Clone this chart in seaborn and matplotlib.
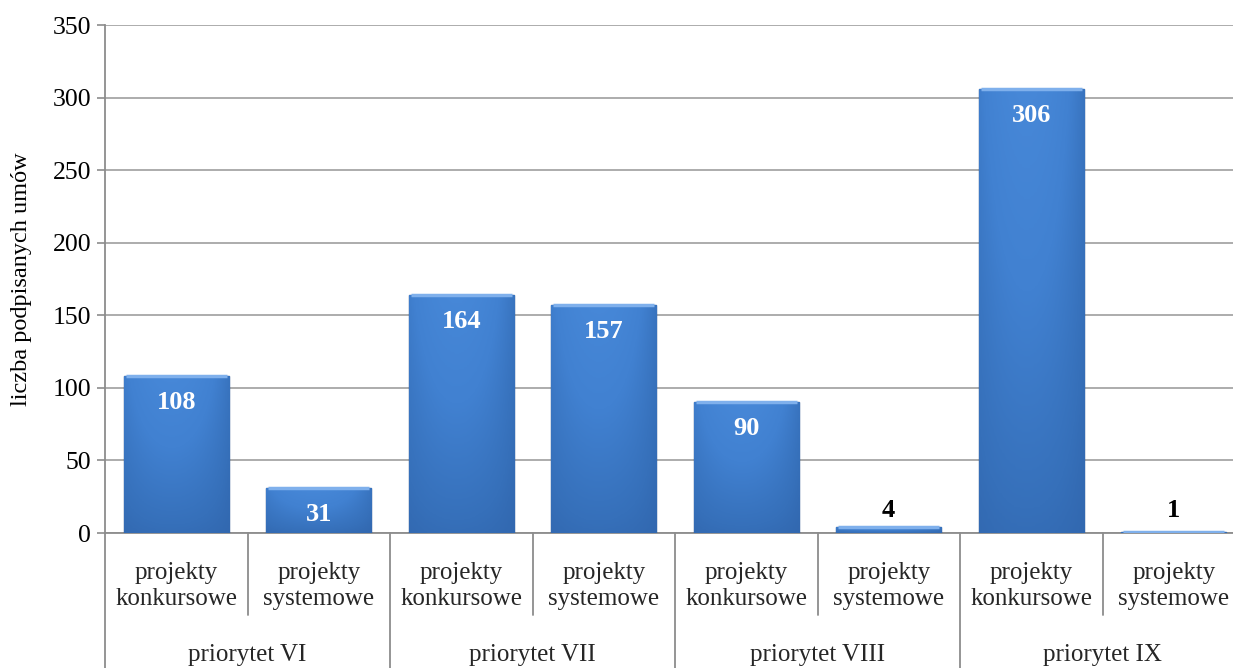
import numpy as np
import pandas as pd
import matplotlib
matplotlib.use("Agg")
import matplotlib.pyplot as plt
import seaborn as sns
from matplotlib.colors import LinearSegmentedColormap

# data
groups = ["priorytet VI", "priorytet VII", "priorytet VIII", "priorytet IX"]
subtypes = ["projekty\nkonkursowe", "projekty\nsystemowe"]
values = [108, 31, 164, 157, 90, 4, 306, 1]
y_ticks = [0, 50, 100, 150, 200, 250, 300, 350]
y_label = "liczba podpisanych umów"

df = pd.DataFrame({
    "grupa": np.repeat(groups, len(subtypes)),
    "typ": subtypes * len(groups),
    "umowy": values,
})
df["klucz"] = df["grupa"] + "|" + df["typ"]

sns.set_theme(style="white")
plt.rcParams["font.family"] = ["Liberation Serif", "DejaVu Serif"]

W, H = 1233, 668
fig = plt.figure(figsize=(W / 100, H / 100), dpi=100)
left, bottom, top = 105, 533, 25
ax = fig.add_axes([left / W, 1 - bottom / H, 1 - left / W, (bottom - top) / H])

sns.barplot(data=df, x="klucz", y="umowy", color="#3C78C8", width=0.74,
            edgecolor="#1F4C86", linewidth=1.0, ax=ax, zorder=3)

n = len(df)
slot_px = 142.5
xlim = (-0.5, -0.5 + (W - left) / slot_px)
ax.set_xlim(xlim)
ax.set_ylim(0, 350)

# gradient fill clipped to each bar
cmap = LinearSegmentedColormap.from_list("bar", ["#29579A", "#3670BA", "#4181D1", "#4788D8"])
xs = np.linspace(0, 1, 64)
ys = np.linspace(0, 1, 128)[:, None]
horiz = 1 - 0.6 * np.abs(xs - 0.45) ** 2 * 4
grad = np.clip(0.2 + 0.75 * ys * horiz[None, :] * 0.9 + 0.1 * horiz[None, :], 0, 1)
for p in list(ax.patches):
    x0, y0 = p.get_x(), p.get_y()
    w, h = p.get_width(), p.get_height()
    im = ax.imshow(grad, extent=(x0, x0 + w, y0, y0 + h), origin="lower",
                   cmap=cmap, aspect="auto", zorder=3.5, vmin=0, vmax=1)
    im.set_clip_path(p)
    # light bevel on top
    ax.plot([x0 + w * 0.02, x0 + w * 0.98], [y0 + h, y0 + h], color="#7FB0EC",
            lw=2.5, zorder=3.6, solid_capstyle="butt")
ax.set_xlim(xlim)
ax.set_ylim(0, 350)

# value labels
for i, v in enumerate(values):
    if v >= 20:
        ax.annotate(str(v), (i, v), xytext=(0, -19), textcoords="offset points",
                    ha="center", va="center", color="white", fontsize=19,
                    fontweight="bold", zorder=5)
    else:
        ax.annotate(str(v), (i, 0), xytext=(0, 16), textcoords="offset points",
                    ha="center", va="center", color="black", fontsize=19,
                    fontweight="bold", zorder=5)

# axes styling
grey = "#8C8C8C"
ax.set_yticks(y_ticks)
ax.yaxis.grid(True, color="#A6A6A6", linewidth=1.3, zorder=0)
ax.set_axisbelow(True)
for s in ["top", "right"]:
    ax.spines[s].set_visible(False)
for s in ["left", "bottom"]:
    ax.spines[s].set_color(grey)
    ax.spines[s].set_linewidth(1.3)
ax.tick_params(axis="y", which="major", labelsize=18.5, length=6, width=1.2,
               color=grey, left=True, pad=4, labelcolor="black")
ax.set_xticks([])
ax.set_xlabel("")
ax.set_ylabel(y_label, fontsize=17.5, color="black")
ax.yaxis.set_label_coords((32 - left) / (W - left), 0.5)

# two-level category axis
ax_h = bottom - top
tr = ax.get_xaxis_transform()
for i, t in enumerate(df["typ"]):
    ax.text(i, -53 / ax_h, t, transform=tr, ha="center", va="center",
            fontsize=18, linespacing=1.2, clip_on=False)
for g, name in enumerate(groups):
    ax.text(g * len(subtypes) + 0.5, -122 / ax_h, name, transform=tr,
            ha="center", va="center", fontsize=18, clip_on=False)
for k in range(n + 1):
    xpos = k - 0.5
    depth = 140 if k % len(subtypes) == 0 else 82
    ax.plot([xpos, xpos], [0, -depth / ax_h], transform=tr, color=grey,
            lw=1.3, clip_on=False, zorder=1)

fig.savefig("out.png", dpi=100)
